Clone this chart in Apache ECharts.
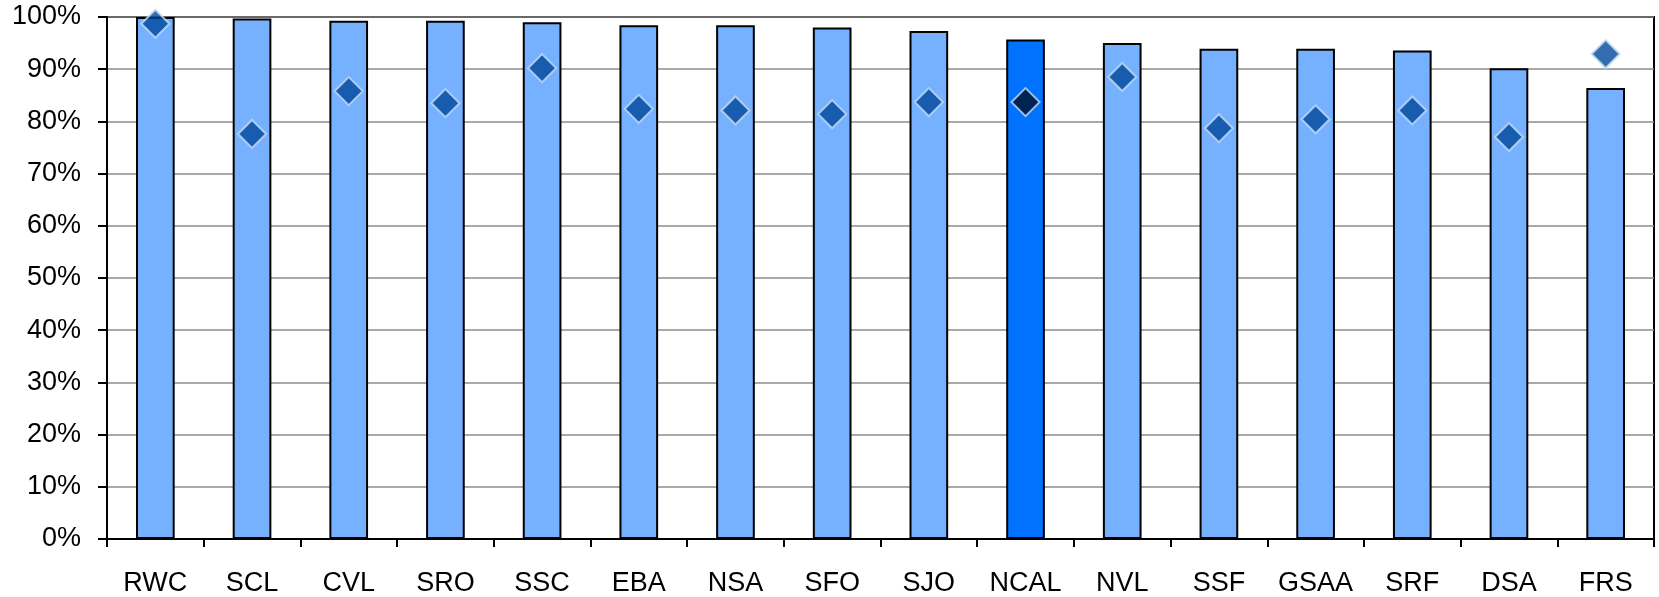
<!DOCTYPE html>
<html>
<head>
<meta charset="utf-8">
<style>
  html, body { margin: 0; padding: 0; background: #ffffff; }
  #chart { width: 1659px; height: 597px; }
</style>
<script src="https://cdn.jsdelivr.net/npm/echarts@6/dist/echarts.min.js"></script>
</head>
<body>
<div id="chart"></div>
<script>
// Region codes along the category axis
const categories = ['RWC', 'SCL', 'CVL', 'SRO', 'SSC', 'EBA', 'NSA', 'SFO', 'SJO', 'NCAL', 'NVL', 'SSF', 'GSAA', 'SRF', 'DSA', 'FRS'];
// Bar values (percent)
const barValues = [100.0, 99.7, 99.3, 99.3, 99.0, 98.4, 98.4, 98.0, 97.3, 95.7, 95.0, 93.9, 93.9, 93.6, 90.2, 86.4];
// Diamond marker values (percent)
const markerValues = [98.7, 77.6, 85.8, 83.5, 90.2, 82.4, 82.1, 81.4, 83.7, 83.7, 88.5, 78.7, 80.4, 82.1, 77.0, 92.9];
// The highlighted total column
const highlight = 'NCAL';

const FONT = '"Liberation Sans", Arial, sans-serif';

const barData = barValues.map((v, i) => ({
  value: v,
  itemStyle: categories[i] === highlight ? { color: '#0072ff' } : undefined
}));
const markerData = markerValues.map((v, i) => ({
  value: v,
  itemStyle: categories[i] === highlight ? { color: '#000f26' } : undefined
}));

const chart = echarts.init(document.getElementById('chart'), null, { renderer: 'canvas' });
chart.setOption({
  animation: false,
  backgroundColor: '#ffffff',
  grid: {
    left: 107, right: 5, top: 17, bottom: 56,
    show: true, borderColor: '#000000', borderWidth: 2, backgroundColor: 'transparent'
  },
  xAxis: {
    type: 'category',
    data: categories,
    axisLine: { lineStyle: { color: '#000000', width: 2 } },
    axisTick: { show: true, length: 8, lineStyle: { color: '#000000', width: 2 } },
    axisLabel: { color: '#000000', fontSize: 27, fontFamily: FONT, margin: 31, interval: 0 }
  },
  yAxis: {
    type: 'value',
    min: 0, max: 100, interval: 10,
    axisLine: { show: true, lineStyle: { color: '#000000', width: 2 } },
    axisTick: { show: true, length: 9, lineStyle: { color: '#000000', width: 2 } },
    axisLabel: {
      color: '#000000', fontSize: 27, fontFamily: FONT, margin: 26,
      padding: [5, 0, 0, 0], formatter: '{value}%'
    },
    splitLine: { show: true, lineStyle: { color: '#8c8c8c', width: 1.5 } }
  },
  series: [
    {
      type: 'bar',
      data: barData,
      barWidth: '40%',
      itemStyle: { color: '#75b1ff', borderColor: '#000000', borderWidth: 2 },
      z: 2
    },
    {
      type: 'scatter',
      data: markerData,
      symbol: 'diamond',
      symbolSize: [28, 28],
      itemStyle: { color: '#00479b', borderColor: '#c6dcf5', borderWidth: 2 },
      z: 3
    }
  ]
});
</script>
</body>
</html>
